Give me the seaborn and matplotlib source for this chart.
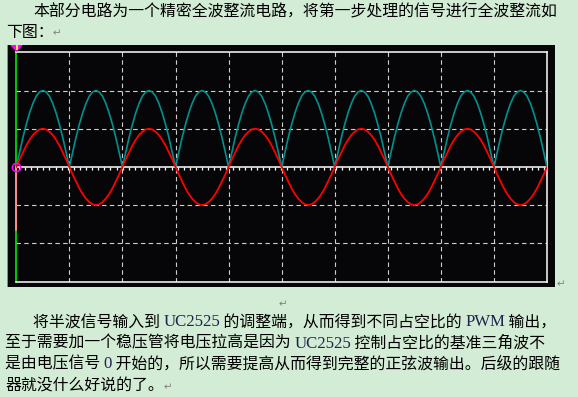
import numpy as np
import pandas as pd
import matplotlib
matplotlib.use("Agg")
import matplotlib.pyplot as plt
from matplotlib.patches import Rectangle, Polygon
import seaborn as sns

# ---------------- data ----------------
# one half-cycle of the red trace (input sine), in vertical divisions, 16 samples per division
red_half = [0.0, 0.20, 0.38, 0.56, 0.71, 0.83, 0.92, 0.98, 1.0,
            0.98, 0.92, 0.83, 0.71, 0.56, 0.38, 0.20, 0.0]
# one hump of the teal trace (full-wave rectified output), in divisions
teal_half = [0.0, 0.39, 0.77, 1.11, 1.41, 1.66, 1.85, 1.96, 2.0,
             1.96, 1.85, 1.66, 1.41, 1.11, 0.77, 0.39, 0.0]
n_half_cycles = 10            # humps visible across the 10 horizontal divisions
red_signs = [1, -1, 1, -1, 1, -1, 1, -1, 1, -1]

top_lines = [[("本部分电路为一个精密全波整流电路，将第一步处理的信号进行全波整流如", "cjk")],
             [("下图：", "cjk")]]
bottom_lines = [[("将半波信号输入到 ", "cjk"), ("UC2525", "lat"), (" 的调整端，从而得到不同占空比的 ", "cjk"),
                 ("PWM", "lat"), (" 输出，", "cjk")],
                [("至于需要加一个稳压管将电压拉高是因为 ", "cjk"), ("UC2525", "lat"),
                 (" 控制占空比的基准三角波不", "cjk")],
                [("是由电压信号 ", "cjk"), ("0", "lat"),
                 (" 开始的，所以需要提高从而得到完整的正弦波输出。后级的跟随", "cjk")],
                [("器就没什么好说的了。", "cjk")]]

# ---------------- build series ----------------
step = 1.0 / (len(red_half) - 1)
t, red, teal = [], [], []
for k in range(n_half_cycles):
    pts = range(len(red_half)) if k == 0 else range(1, len(red_half))
    for i in pts:
        t.append(k + i * step)
        red.append(red_signs[k] * red_half[i])
        teal.append(teal_half[i])
df = pd.DataFrame({"t": t, "red": red, "teal": teal})

# ---------------- figure ----------------
sns.set_style("white")
plt.rcParams["font.family"] = ["Noto Sans CJK SC", "DejaVu Sans"]

W, H = 578, 397
fig = plt.figure(figsize=(W / 100, H / 100), dpi=100)
fig.patch.set_facecolor("#d3ecd5")


def fx(x):
    return x / W


def fy(y):
    return 1 - y / H


# black scope panel
fig.add_artist(Rectangle((fx(7), fy(287)), fx(555) - fx(7), fy(45) - fy(287),
                         transform=fig.transFigure, facecolor="#060608",
                         edgecolor="none", zorder=0))
fig.add_artist(Rectangle((fx(6.5), fy(287)), fx(1.8), fy(45) - fy(287),
                         transform=fig.transFigure, facecolor="#8c8c8c",
                         edgecolor="none", zorder=0.5))

x0, x1, y0, y1 = 16.3, 547.0, 52.3, 281.5
ax = fig.add_axes([fx(x0), fy(y1), fx(x1) - fx(x0), fy(y0) - fy(y1)])
ax.set_facecolor("#060608")
ax.set_xlim(0, 10)
ax.set_ylim(-3, 3)
ax.set_xticks([])
ax.set_yticks([])

for s in ["top", "right", "bottom"]:
    ax.spines[s].set_color("white")
    ax.spines[s].set_linewidth(1.1)
ax.spines["left"].set_color("#00ff00")
ax.spines["left"].set_linewidth(1.1)

# dashed grid
for gx in range(1, 10):
    ax.axvline(gx, color="#cfcfcf", lw=0.8, ls=(0, (4, 3)), zorder=1)
for gy in [-2, -1, 1, 2]:
    ax.axhline(gy, color="#cfcfcf", lw=0.8, ls=(0, (4, 3)), zorder=1)
# zero line with small ticks
ax.axhline(0, color="white", lw=1.1, zorder=2)
tick_x = np.arange(0.05, 10, 0.115)
ax.vlines(tick_x, -0.075, 0, color="white", lw=0.9, zorder=2)

# pink segment on the left edge
ax.plot([0, 0], [0, -1.65], color="#ff8c8c", lw=1.4, clip_on=False, zorder=3)

sns.lineplot(data=df, x="t", y="teal", ax=ax, color="#00918f", lw=1.2,
             estimator=None, sort=False, zorder=4)
sns.lineplot(data=df, x="t", y="red", ax=ax, color="#ff0000", lw=1.3,
             estimator=None, sort=False, zorder=5)
ax.set_xlabel("")
ax.set_ylabel("")

ax.plot([0], [0], marker="o", ms=6, mfc="none", mec="#ff00ff", mew=1.1,
        clip_on=False, zorder=6)

# trigger marker at top
fig.add_artist(Polygon([(fx(10), fy(45)), (fx(23), fy(45)), (fx(16.5), fy(52))],
                       closed=True, transform=fig.transFigure,
                       facecolor="#ff00ff", edgecolor="none", zorder=3))
fig.add_artist(Rectangle((fx(15.5), fy(50)), fx(2), fy(45) - fy(50),
                         transform=fig.transFigure, facecolor="#e8e840",
                         edgecolor="none", zorder=4))

# ---------------- text ----------------
fs = 11.45
cjk_fam = ["Noto Sans CJK SC", "DejaVu Sans"]
lat_fam = ["Liberation Serif", "DejaVu Serif"]
renderer = fig.canvas.get_renderer()


def draw_line(segments, x, y):
    cur = x
    for txt, kind in segments:
        if kind == "cjk":
            t_ = fig.text(fx(cur), fy(y), txt, fontsize=fs, family=cjk_fam,
                          color="black", ha="left", va="center")
        else:
            t_ = fig.text(fx(cur), fy(y) - 0.001, txt, fontsize=fs * 1.05, family=lat_fam,
                          color="#22224e", ha="left", va="center")
        bb = t_.get_window_extent(renderer)
        cur += bb.width


top_pos = [(33, 11.7), (6, 32.7)]
for segs, (x, y) in zip(top_lines, top_pos):
    draw_line(segs, x, y)
bot_pos = [(33, 321.7), (5, 343.3), (5, 364.0), (5, 385.7)]
for segs, (x, y) in zip(bottom_lines, bot_pos):
    draw_line(segs, x, y)

# paragraph marks
for (x, y) in [(57, 33), (283, 304), (561, 284), (168, 387)]:
    fig.text(fx(x), fy(y), "↵", fontsize=7.5, family=["DejaVu Sans"],
             color="#808080", ha="center", va="center")

fig.savefig("out.png", dpi=100, facecolor=fig.get_facecolor())
